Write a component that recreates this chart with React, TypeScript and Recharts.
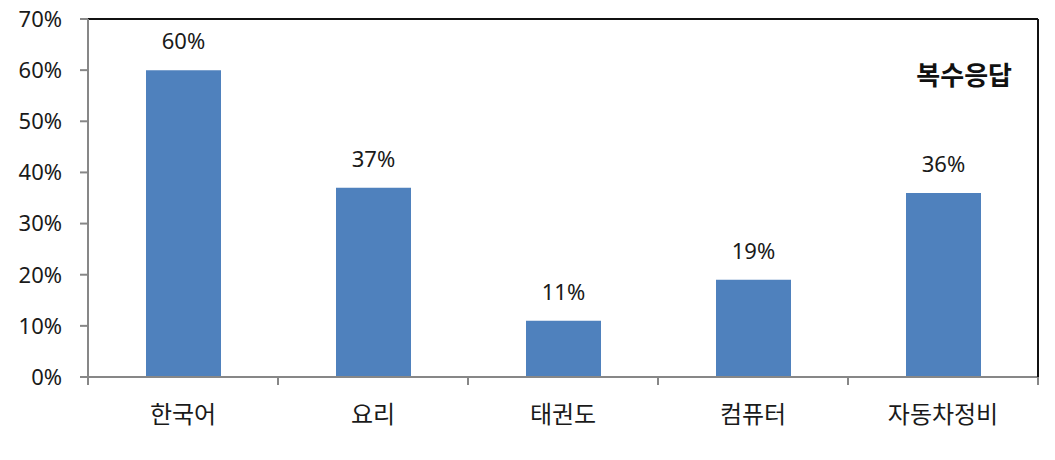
import { BarChart, Bar, XAxis, YAxis, LabelList } from "recharts";

const categories = ["한국어", "요리", "태권도", "컴퓨터", "자동차정비"];
const shares = [60, 37, 11, 19, 36];
const yTicks = [0, 10, 20, 30, 40, 50, 60, 70];
const note = "복수응답";

const data = categories.map((name, i) => ({ name, value: shares[i] }));

const FONT = "'Noto Sans', 'Noto Sans CJK KR', sans-serif";
const AXIS = "#878787";
const INK = "#1a1a1a";

const CategoryTick = (props: any) => {
  const { x, y, payload, index, visibleTicksCount } = props;
  const half = payload?.offset ?? 95;
  const last = index === (visibleTicksCount ?? categories.length) - 1;
  return (
    <g>
      <line x1={x - half} y1={y} x2={x - half} y2={y + 8} stroke={AXIS} strokeWidth={2} />
      {last && <line x1={x + half} y1={y} x2={x + half} y2={y + 8} stroke={AXIS} strokeWidth={2} />}
      <text
        x={x}
        y={y + 46}
        textAnchor="middle"
        fontSize={24}
        fontFamily={FONT}
        fill={INK}
      >
        {payload.value}
      </text>
    </g>
  );
};

export default function App() {
  return (
    <div style={{ position: "fixed", left: 0, top: 0, width: 1055, height: 460, background: "#fff" }}>
      <BarChart
        width={1055}
        height={460}
        data={data}
        margin={{ top: 18, right: 16, left: 0, bottom: 33 }}
      >
        <XAxis
          dataKey="name"
          axisLine={{ stroke: AXIS, strokeWidth: 2 }}
          tickLine={false}
          tickSize={0}
          tickMargin={0}
          height={50}
          interval={0}
          tick={<CategoryTick />}
        />
        <XAxis
          xAxisId="top"
          dataKey="name"
          orientation="top"
          axisLine={{ stroke: "#111", strokeWidth: 2 }}
          tick={false}
          tickLine={false}
          height={1}
        />
        <YAxis
          domain={[0, 70]}
          ticks={yTicks}
          tickFormatter={(v: number) => `${v}%`}
          width={88}
          axisLine={{ stroke: AXIS, strokeWidth: 2 }}
          tickLine={{ stroke: AXIS, strokeWidth: 2 }}
          tickSize={8}
          tickMargin={18}
          tick={{ fontSize: 22, fill: INK, fontFamily: FONT }}
        />
        <YAxis
          yAxisId="right"
          orientation="right"
          domain={[0, 70]}
          axisLine={{ stroke: "#111", strokeWidth: 2 }}
          tick={false}
          tickLine={false}
          width={1}
        />
        <Bar dataKey="value" fill="#4F81BD" barSize={75} isAnimationActive={false}>
          <LabelList
            dataKey="value"
            position="top"
            offset={21}
            formatter={(v: number) => `${v}%`}
            style={{ fontSize: 22, fill: INK, fontFamily: FONT }}
          />
        </Bar>
      </BarChart>
      <div
        style={{
          position: "absolute",
          right: 43,
          top: 59,
          fontSize: 26,
          fontWeight: 700,
          fontFamily: FONT,
          color: "#111",
          lineHeight: "32px",
        }}
      >
        {note}
      </div>
    </div>
  );
}
